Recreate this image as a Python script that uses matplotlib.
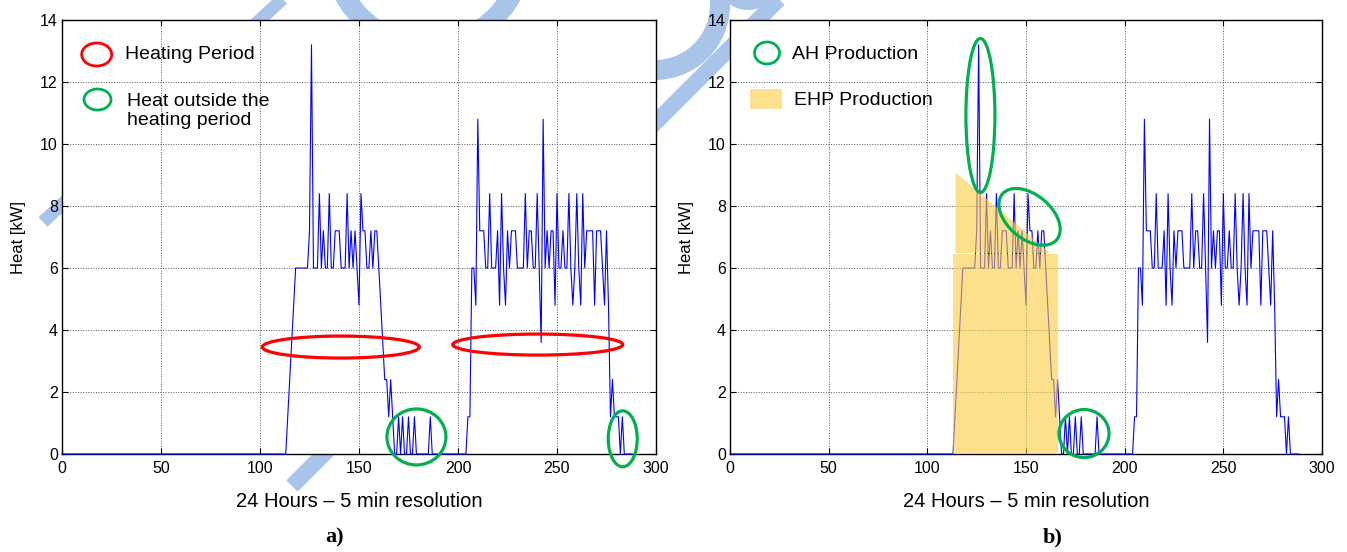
import numpy as np
import matplotlib.pyplot as plt
from matplotlib.patches import Ellipse, Rectangle, Arc
from matplotlib.transforms import ScaledTranslation
from matplotlib.lines import Line2D

plt.rcParams['font.family'] = ['Liberation Sans', 'DejaVu Sans']

# heat demand over one day, one value per 5 min step (kW), x = 0..288
heat = ([0.0] * 114 +
        [1.2, 2.4, 3.6, 4.8, 6.0, 6.0, 6.0, 6.0, 6.0, 6.0, 6.0,      # 114-124
         7.2, 13.2, 6.0, 6.0, 6.0, 8.4, 6.0, 7.2, 6.0, 6.0,          # 125-134
         8.4, 6.0, 6.0, 7.2, 7.2, 7.2, 6.0, 6.0, 6.0, 8.4,           # 135-144
         6.0, 7.2, 6.0, 7.2, 6.0, 4.8, 8.4, 7.2, 7.2, 6.0,           # 145-154
         6.0, 7.2, 6.0, 7.2, 7.2, 6.0, 4.8, 3.6, 2.4, 2.4,           # 155-164
         1.2, 2.4, 1.2, 0.0, 0.0, 1.2, 0.0, 1.2, 0.0, 0.0,           # 165-174
         1.2, 0.0, 0.0, 1.2, 0.0, 0.0, 0.0, 0.0, 0.0, 0.0,           # 175-184
         0.0, 1.2] +                                                 # 185-186
        [0.0] * 18 +
        [1.2, 1.2, 6.0, 6.0, 4.8, 10.8, 7.2, 7.2, 7.2, 6.0,          # 205-214
         6.0, 8.4, 6.0, 6.0, 6.0, 7.2, 4.8, 8.4, 6.0, 4.8,           # 215-224
         7.2, 6.0, 7.2, 7.2, 7.2, 6.0, 6.0, 6.0, 6.0, 8.4,           # 225-234
         6.0, 7.2, 7.2, 6.0, 6.0, 8.4, 6.0, 3.6, 10.8, 6.0,          # 235-244
         7.2, 6.0, 7.2, 7.2, 4.8, 8.4, 6.0, 6.0, 7.2, 6.0,           # 245-254
         6.0, 8.4, 6.0, 4.8, 6.0, 8.4, 6.0, 4.8, 8.4, 6.0,           # 255-264
         7.2, 7.2, 7.2, 7.2, 4.8, 7.2, 7.2, 7.2, 6.0, 4.8,           # 265-274
         7.2, 4.8, 1.2, 2.4, 1.2, 1.2, 1.2, 0.0, 1.2, 0.0] +         # 275-284
        [0.0] * 4)
steps = np.arange(len(heat))

# electric heat pump share: flat block plus a sloping top part
ehp_block_x = [113, 166]
ehp_block_kw = 6.45
ehp_peak_x = [114, 162]
ehp_peak_top = [9.1, 6.5]
ehp_peak_bottom = 6.5

# annotation rings: (x, kW, width px, height px, angle)
heating_rings = [(140.8, 3.45, 157, 22, 0), (240.3, 3.53, 170, 21, 0)]
outside_rings = [(179.0, 0.55, 59, 56, 0), (283.2, 0.49, 29, 56, 0)]
ah_rings = [(126.9, 10.92, 29, 154, 0), (151.8, 7.65, 71, 44, -40),
            (179.4, 0.66, 50, 48, 0)]

RED = '#ff0000'
GREEN = '#00b050'
BLUE = '#0000ff'
GOLD = '#fdcb3f'
WM = '#a9c4e9'

W, H = 1347, 552
fig = plt.figure(figsize=(W / 100, H / 100), dpi=100)


def px_pt(px):
    return px * 72 / 100


# light blue watermark strokes behind both panels
def wm_line(p0, p1, width):
    fig.add_artist(Line2D([p0[0] / W, p1[0] / W], [1 - p0[1] / H, 1 - p1[1] / H],
                          transform=fig.transFigure, color=WM, lw=px_pt(width),
                          solid_capstyle='butt', zorder=-1))


def wm_arc(c, r, t1, t2, width):
    fig.add_artist(Arc((c[0] / 100, (H - c[1]) / 100), 2 * r / 100, 2 * r / 100,
                       theta1=t1, theta2=t2, transform=fig.dpi_scale_trans,
                       color=WM, lw=px_pt(width), zorder=-1))


wm_line((290, -8), (43, 222), 13)
wm_line((790, -12), (292, 486), 16)
wm_arc((428, -50), 95, 180, 360, 20)
wm_arc((655, 5), 65, -120, 10, 20)
wm_arc((748, -22), 27, -160, -20, 10)


def ring(ax, x, y, w, h, color, angle=0, base=None, lw=2.2):
    base = ax.transData if base is None else base
    e = Ellipse((0, 0), w / 100, h / 100, angle=angle, fill=False, ec=color, lw=lw,
                transform=fig.dpi_scale_trans + ScaledTranslation(x, y, base), zorder=5)
    ax.add_artist(e)
    e.set_clip_on(False)


def setup(ax):
    ax.plot(steps, heat, color=BLUE, lw=0.8, zorder=2.6, clip_on=False)
    ax.set_xlim(0, 300)
    ax.set_ylim(0, 14)
    ax.set_xticks(np.arange(0, 301, 50))
    ax.set_yticks(np.arange(0, 15, 2))
    ax.grid(True, linestyle=':', color='#555555', linewidth=0.7)
    ax.tick_params(direction='in', top=True, right=True, length=4, width=0.8,
                   labelsize=11.5, colors='black')
    ax.tick_params(axis='y', pad=3)
    ax.tick_params(axis='x', pad=5)
    for s in ax.spines.values():
        s.set_linewidth(1.0)
    ax.set_ylabel('Heat [kW]', fontsize=12)
    ax.yaxis.set_label_coords(-36 / 594, 0.5)
    ax.set_xlabel('24 Hours \u2013 5 min resolution', fontsize=14.5)
    ax.xaxis.set_label_coords(0.5, -0.087)


ax1 = fig.add_axes([62 / W, 98 / H, 594 / W, 434 / H])
ax2 = fig.add_axes([730 / W, 98 / H, 592 / W, 434 / H])
setup(ax1)
setup(ax2)

# a) heating periods and heat outside them
for x, y, w, h, a in heating_rings:
    ring(ax1, x, y, w, h, RED, a, lw=2.3)
for x, y, w, h, a in outside_rings:
    ring(ax1, x, y, w, h, GREEN, a, lw=2.3)
ring(ax1, 0.0584, 0.9205, 30, 23, RED, base=ax1.transAxes, lw=2.0)
ring(ax1, 0.0598, 0.8168, 27, 21, GREEN, base=ax1.transAxes, lw=2.0)
ax1.text(0.106, 0.92, 'Heating Period', transform=ax1.transAxes,
         fontsize=14, va='center', ha='left')
ax1.text(0.109, 0.79, 'Heat outside the\nheating period', transform=ax1.transAxes,
         fontsize=14, va='center', ha='left', linespacing=1.2)

# b) EHP production and auxiliary heater peaks
ax2.fill_between(ehp_block_x, 0, ehp_block_kw, color=GOLD, alpha=0.6, lw=0, zorder=3)
ax2.fill_between(ehp_peak_x, ehp_peak_bottom, ehp_peak_top, color=GOLD, alpha=0.6,
                 lw=0, zorder=3)
for x, y, w, h, a in ah_rings:
    ring(ax2, x, y, w, h, GREEN, a, lw=2.3)
ring(ax2, 0.0625, 0.924, 25, 22, GREEN, base=ax2.transAxes, lw=2.0)
sw = Rectangle((-0.16, -0.10), 0.32, 0.20, color=GOLD, alpha=0.6, lw=0,
               transform=fig.dpi_scale_trans + ScaledTranslation(0.0608, 0.818, ax2.transAxes))
ax2.add_artist(sw)
ax2.text(0.104, 0.92, 'AH Production', transform=ax2.transAxes,
         fontsize=14, va='center', ha='left')
ax2.text(0.108, 0.814, 'EHP Production', transform=ax2.transAxes,
         fontsize=14, va='center', ha='left')

fig.text(335 / W, 1 - 537 / H, 'a)', fontsize=16, fontweight='bold',
         family='Liberation Serif', ha='center', va='center')
fig.text(1053 / W, 1 - 537 / H, 'b)', fontsize=16, fontweight='bold',
         family='Liberation Serif', ha='center', va='center')

fig.savefig('out.png', dpi=100)
